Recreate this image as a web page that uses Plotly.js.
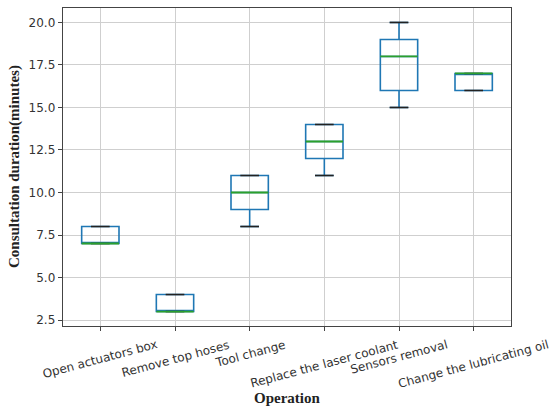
<!DOCTYPE html>
<html>
<head>
<meta charset="utf-8">
<script src="https://cdn.plot.ly/plotly-3.0.1.min.js"></script>
<style>html,body{margin:0;padding:0;background:#fff;}#chart{width:551px;height:412px;}</style>
</head>
<body>
<div id="chart"></div>
<script>
const categories = ["Open actuators box", "Remove top hoses", "Tool change", "Replace the laser coolant", "Sensors removal", "Change the lubricating oil"];
const lowerWhisker = [7, 3, 8, 11, 15, 16];
const q1Values = [7, 3, 9, 12, 16, 16];
const medianValues = [7, 3, 10, 13, 18, 17];
const q3Values = [8, 4, 11, 14, 19, 17];
const upperWhisker = [8, 4, 11, 14, 20, 17];
const yTickValues = [2.5, 5.0, 7.5, 10.0, 12.5, 15.0, 17.5, 20.0];

const positions = categories.map((c, i) => i + 1);
const boxHalf = 0.25, capHalf = 0.125;

function segments(vals, half) {
  const xs = [], ys = [];
  vals.forEach((v, i) => {
    xs.push(positions[i] - half, positions[i] + half, null);
    ys.push(v, v, null);
  });
  return {xs, ys};
}

const boxTrace = {
  type: 'box',
  x: positions,
  q1: q1Values,
  median: medianValues,
  q3: q3Values,
  lowerfence: lowerWhisker,
  upperfence: upperWhisker,
  width: 0.5,
  whiskerwidth: 0.5,
  boxpoints: false,
  line: {color: '#1f77b4', width: 1.6},
  fillcolor: 'rgba(0,0,0,0)',
  hoverinfo: 'skip',
  showlegend: false
};

const capLo = segments(lowerWhisker, capHalf);
const capHi = segments(upperWhisker, capHalf);
const capTrace = {
  type: 'scatter', mode: 'lines',
  x: capLo.xs.concat(capHi.xs),
  y: capLo.ys.concat(capHi.ys),
  line: {color: '#222', width: 1.6},
  hoverinfo: 'skip', showlegend: false
};
const med = segments(medianValues, boxHalf);
const medTrace = {
  type: 'scatter', mode: 'lines',
  x: med.xs, y: med.ys,
  line: {color: '#2ca02c', width: 1.8},
  hoverinfo: 'skip', showlegend: false
};

const tickFont = {family: 'DejaVu Sans', size: 12, color: '#333'};
const annotations = categories.map((c, i) => ({
  text: c, x: positions[i], xref: 'x', y: 0, yref: 'paper',
  xanchor: 'center', yanchor: 'top', yshift: -9,
  textangle: -15, showarrow: false, font: tickFont
}));
annotations.push({
  text: '<b>Operation</b>', x: 0.5, xref: 'paper', y: 0, yref: 'paper',
  xanchor: 'center', yanchor: 'middle', yshift: -72, showarrow: false,
  font: {family: 'Liberation Serif', size: 15, color: '#222'}
});
annotations.push({
  text: '<b>Consultation duration(minutes)</b>', x: 0, xref: 'paper', y: 0.5, yref: 'paper',
  xanchor: 'center', yanchor: 'middle', xshift: -49, textangle: -90, showarrow: false,
  font: {family: 'Liberation Serif', size: 15, color: '#222'}
});

const layout = {
  width: 551, height: 412,
  margin: {l: 63, r: 40, t: 8, b: 86},
  paper_bgcolor: '#fff', plot_bgcolor: '#fff',
  showlegend: false,
  xaxis: {
    range: [0.5, 6.5], tickmode: 'array', tickvals: positions, showticklabels: false,
    ticks: 'outside', ticklen: 4, tickcolor: '#444',
    showgrid: true, gridcolor: '#cfcfcf', gridwidth: 1,
    showline: true, linecolor: '#444', linewidth: 1.3, mirror: true, zeroline: false
  },
  yaxis: {
    range: [2.15, 20.85], tickmode: 'array', tickvals: yTickValues,
    ticktext: yTickValues.map(v => v.toFixed(1)),
    ticks: 'outside', ticklen: 4, tickcolor: '#444', tickfont: tickFont,
    showgrid: true, gridcolor: '#cfcfcf', gridwidth: 1,
    showline: true, linecolor: '#444', linewidth: 1.3, mirror: true, zeroline: false
  },
  annotations: annotations
};

Plotly.newPlot('chart', [boxTrace, capTrace, medTrace], layout, {staticPlot: true, displayModeBar: false});
</script>
</body>
</html>
